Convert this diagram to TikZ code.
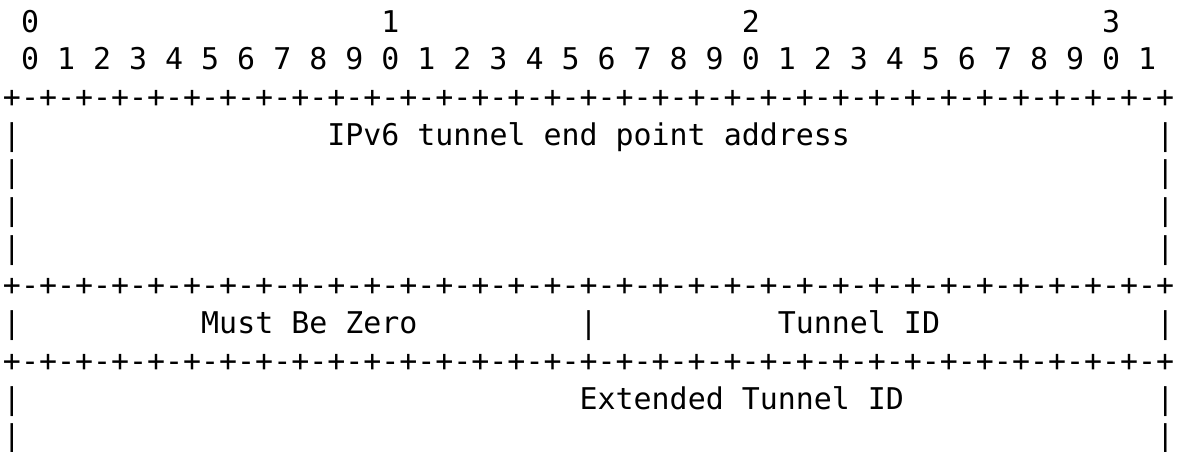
\documentclass[tikz,border=0pt]{standalone}
\usepackage{fontspec}
\newfontfamily\asciimono{DejaVu Sans Mono}
\begin{document}
\begin{tikzpicture}[x=0.5pt,y=-0.5pt,
  cell/.style={anchor=base west,inner sep=0pt,outer sep=0pt,text=black,
    font=\asciimono\fontsize{14.965pt}{18pt}\selectfont}]
% page area
\fill[white] (0,0) rectangle (1183,451);
\useasboundingbox (0,0) rectangle (1183,451);
% character grid: column c starts at 3 + 18.02 c, row r has its baseline at 32 + 37.7 (r-1)
\def\border{+-+-+-+-+-+-+-+-+-+-+-+-+-+-+-+-+-+-+-+-+-+-+-+-+-+-+-+-+-+-+-+-+}
% bit numbering
\node[cell] (tens0) at ({3+1*18.02},32) {0};
\node[cell] (tens1) at ({3+21*18.02},32) {1};
\node[cell] (tens2) at ({3+41*18.02},32) {2};
\node[cell] (tens3) at ({3+61*18.02},32) {3};
\node[cell] (units) at ({3+1*18.02},{32+1*37.7}) {0 1 2 3 4 5 6 7 8 9 0 1 2 3 4 5 6 7 8 9 0 1 2 3 4 5 6 7 8 9 0 1};
% horizontal rules
\node[cell] (rule1) at (3,{32+2*37.7}) {\border};
\node[cell] (rule2) at (3,{32+7*37.7}) {\border};
\node[cell] (rule3) at (3,{32+9*37.7}) {\border};
% side bars
\foreach \r in {3,4,5,6,8,10,11}{
  \node[cell] (left\r) at (3,{32+\r*37.7}) {|};
  \node[cell] (right\r) at ({3+64*18.02},{32+\r*37.7}) {|};
}
\node[cell] (mid8) at ({3+32*18.02},{32+8*37.7}) {|};
% field names
\node[cell] (addr) at ({3+18*18.02},{32+3*37.7}) {IPv6 tunnel end point address};
\node[cell] (mbz) at ({3+11*18.02},{32+8*37.7}) {Must Be Zero};
\node[cell] (tid) at ({3+43*18.02},{32+8*37.7}) {Tunnel ID};
\node[cell] (etid) at ({3+32*18.02},{32+10*37.7}) {Extended Tunnel ID};
\end{tikzpicture}
\end{document}
